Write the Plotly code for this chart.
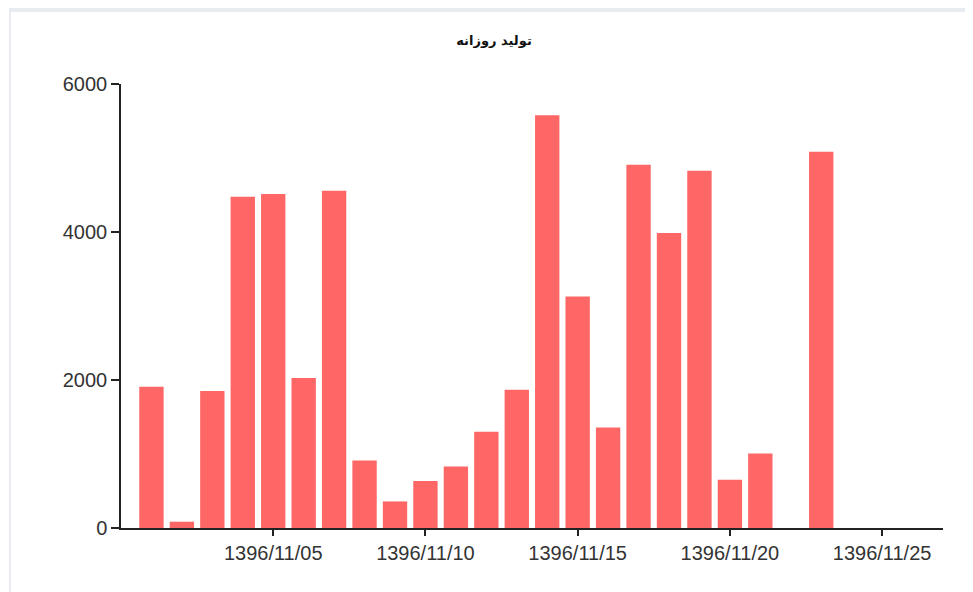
import plotly.graph_objects as go

title_text = "تولید روزانه"
dates = ["1396/11/01", "1396/11/02", "1396/11/03", "1396/11/04", "1396/11/05",
         "1396/11/06", "1396/11/07", "1396/11/08", "1396/11/09", "1396/11/10",
         "1396/11/11", "1396/11/12", "1396/11/13", "1396/11/14", "1396/11/15",
         "1396/11/16", "1396/11/17", "1396/11/18", "1396/11/19", "1396/11/20",
         "1396/11/21", "1396/11/22", "1396/11/23"]
production = [1910, 85, 1850, 4478, 4514, 2026, 4559, 913, 359, 635,
              832, 1300, 1868, 5577, 3128, 1359, 4910, 3988, 4829, 652,
              1007, 0, 5086]
tick_labels = ["1396/11/05", "1396/11/10", "1396/11/15", "1396/11/20", "1396/11/25"]

day_num = [int(d.split("/")[2]) for d in dates]
tick_vals = [int(t.split("/")[2]) for t in tick_labels]

# figure is placed at (8, 8) in the page by the default body margin
OFF = 8
W, H = 973 - OFF, 592 - OFF
ML, MR, MT, MB = 121 - OFF, 30, 84 - OFF, 64
PW, PH = W - ML - MR, H - MT - MB

def px(x):
    return (x - ML) / PW

def py(y):
    return (H - MB - y) / PH

fig = go.Figure(go.Bar(
    x=day_num, y=production, width=0.8,
    marker=dict(color="#ff6666", line=dict(width=0)),
    customdata=dates, hovertemplate="%{customdata}: %{y}<extra></extra>",
))

frame_color = "#e8ecf1"
fig.update_layout(
    width=W, height=H,
    margin=dict(l=ML, r=MR, t=MT, b=MB),
    paper_bgcolor="white", plot_bgcolor="white",
    showlegend=False,
    title=dict(text="<b>" + title_text + "</b>", x=(494 - OFF) / W, xanchor="center",
               y=1 - (40 - OFF) / H, yanchor="middle",
               font=dict(family="DejaVu Sans", size=13, color="#111")),
    xaxis=dict(range=[0, 27], tickmode="array", tickvals=tick_vals, ticktext=tick_labels,
               showgrid=False, zeroline=False, showline=True, linecolor="#222", linewidth=1.5,
               ticks="outside", ticklen=6, tickcolor="#222", tickwidth=1.5,
               tickfont=dict(family="Liberation Sans", size=20, color="#333")),
    yaxis=dict(range=[0, 6000], tickmode="array", tickvals=[0, 2000, 4000, 6000],
               ticktext=["0", "2000", "4000", "6000"],
               showgrid=False, zeroline=False, showline=True, linecolor="#222", linewidth=1.5,
               ticks="outside", ticklen=8, tickcolor="#222", tickwidth=1.5,
               tickfont=dict(family="Liberation Sans", size=20, color="#333")),
    shapes=[
        dict(type="rect", xref="paper", yref="paper", x0=px(1), x1=px(W), y0=py(4), y1=py(0),
             fillcolor=frame_color, line=dict(width=0), layer="below"),
        dict(type="rect", xref="paper", yref="paper", x0=px(1), x1=px(3), y0=py(H), y1=py(0),
             fillcolor=frame_color, line=dict(width=0), layer="below"),
    ],
)

fig.write_html("out.html")
